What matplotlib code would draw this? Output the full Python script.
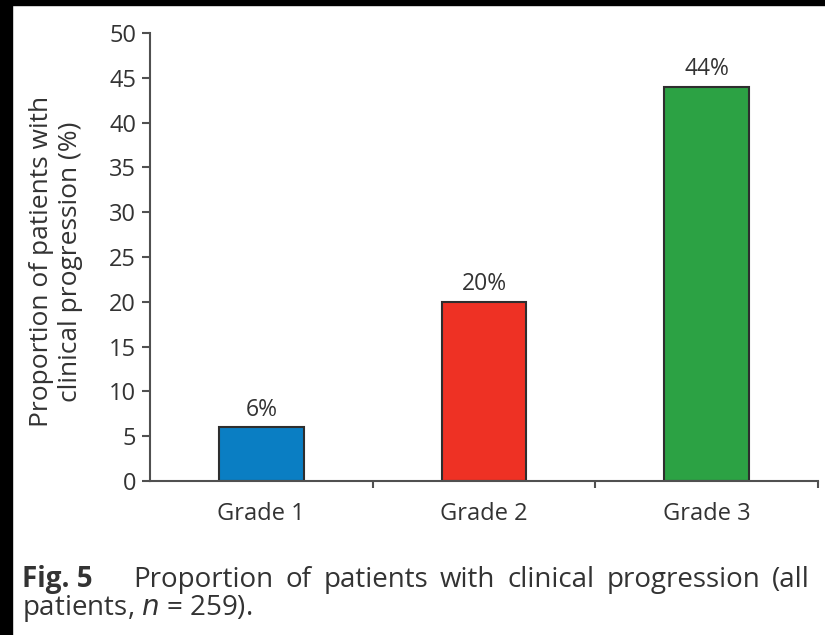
import matplotlib
matplotlib.use('Agg')
import matplotlib.pyplot as plt
from matplotlib.patches import Rectangle

plt.rcParams['font.family'] = ['Open Sans', 'DejaVu Sans']

grades = ['Grade 1', 'Grade 2', 'Grade 3']
progression = [6, 20, 44]
bar_colors = ['#0a7ec3', '#ee3124', '#2ca244']
yticks = list(range(0, 51, 5))

ink = '#333333'
W, H = 825, 635

fig = plt.figure(figsize=(8.25, 6.35), dpi=100)
ax = fig.add_axes([150 / W, 1 - 481 / H, 668 / W, 448 / H])

x = list(range(len(grades)))
ax.bar(x, progression, width=0.38, color=bar_colors,
       edgecolor='#2e2e2e', linewidth=1.5, zorder=2)
for xi, v in zip(x, progression):
    ax.text(xi, v + 0.6, f'{v}%', ha='center', va='bottom',
            fontsize=16.5, color=ink)

ax.set_xlim(-0.5, len(grades) - 0.5)
ax.set_ylim(0, 50)
ax.set_yticks(yticks)
ax.set_xticks(x)
ax.set_xticklabels(grades)
ax.set_xticks([i + 0.5 for i in x], minor=True)

for s in ['top', 'right']:
    ax.spines[s].set_visible(False)
for s in ['left', 'bottom']:
    ax.spines[s].set_color('#505050')
    ax.spines[s].set_linewidth(1.5)

ax.tick_params(axis='y', direction='out', length=6, width=1.5, color='#505050',
               labelsize=17, labelcolor=ink, pad=4)
ax.tick_params(axis='x', which='major', length=0, labelsize=17,
               labelcolor=ink, pad=15)
ax.tick_params(axis='x', which='minor', direction='out', length=5,
               width=1.5, color='#505050')

ax.set_ylabel('Proportion of patients with\nclinical progression (%)',
              fontsize=19, color=ink, linespacing=1.2)
ax.yaxis.set_label_coords(-0.1, 0.49)

# caption under the chart, first line justified between two edges
cap_size = 20
y1, y2 = 1 - 587 / H, 1 - 615 / H
fig.text(22 / W, y1, 'Fig. 5', fontsize=cap_size, fontweight='bold',
         color=ink, va='baseline')
words = ['Proportion', 'of', 'patients', 'with', 'clinical', 'progression', '(all']
left, right = 133, 810
renderer = fig.canvas.get_renderer()
objs = [fig.text(0, y1, w, fontsize=cap_size, color=ink, va='baseline') for w in words]
widths = [t.get_window_extent(renderer).width for t in objs]
gap = (right - left - sum(widths)) / (len(words) - 1)
pos = left
for t, w in zip(objs, widths):
    t.set_x(pos / W)
    pos += w + gap
fig.text(22 / W, y2, 'patients, $n$ = 259).', fontsize=cap_size,
         color=ink, va='baseline')

# black strips along the top and left edges
fig.patches.append(Rectangle((0, 0), 12 / W, 1, transform=fig.transFigure,
                             color='black', zorder=10))
fig.patches.append(Rectangle((0, 1 - 5 / H), 1, 5 / H,
                             transform=fig.transFigure, color='black', zorder=10))

fig.savefig('out.png', dpi=100, facecolor='white')
